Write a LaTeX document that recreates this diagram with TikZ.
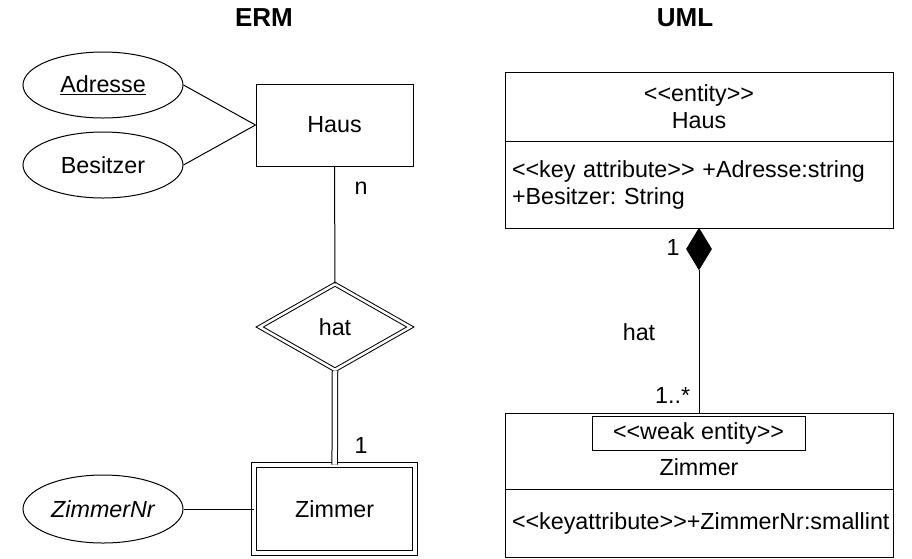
\documentclass[tikz,border=0pt]{standalone}
\usepackage{fontspec}
\setmainfont{Liberation Sans}
\usetikzlibrary{shapes.geometric}
\frenchspacing
\newcommand\stereo[1]{\mbox{<}\mbox{<}#1\mbox{>}\mbox{>}}
\tikzset{
  every node/.style={font=\fontsize{23.3}{27}\selectfont},
  titel/.style={font=\fontsize{26}{30}\selectfont\bfseries},
  attr/.style={draw, ellipse, minimum width=160pt, minimum height=66pt, inner sep=0pt},
  entity/.style={draw, rectangle, minimum width=157pt, minimum height=82pt},
  weakentity/.style={draw, rectangle, double, double distance=4pt, minimum width=161pt, minimum height=88pt},
  weakrel/.style={draw, diamond, double, double distance=2.5pt, minimum width=151pt, minimum height=86pt, inner sep=0pt},
  klasse/.style={draw, rectangle, minimum width=388pt, inner sep=0pt, outer sep=0pt}
}
\begin{document}
\begin{tikzpicture}[x=1pt, y=-1pt, line width=1pt]
\useasboundingbox (0,0) rectangle (912,558);
\node[titel] (erm) at (264,18) {ERM};
\node[titel] (uml) at (685,18) {UML};
\node[attr] (adresse) at (103,85) {\underline{Adresse}};
\node[attr] (besitzer) at (103,165) {Besitzer};
\node[entity] (hausE) at (334.5,125) {Haus};
\node[weakrel] (hat) at (335,327) {hat};
\node[weakentity] (zimmerE) at (334.7,509) {Zimmer};
\node[attr, minimum height=68pt] (zimmerNr) at (103,509) {\itshape ZimmerNr};
\node (multN) at (361,188) {n};
\node (multE) at (361,445) {1};
\draw (adresse.east) -- (hausE.west);
\draw (besitzer.east) -- (hausE.west);
\draw (hausE.south) -- (hat.north);
\draw[double, double distance=4.5pt] (hat.south) -- (zimmerE.north);
\draw (zimmerNr.east) -- (zimmerE.west);
\node[klasse, minimum height=69pt, align=center] (hausHead) at (699,106.5) {\stereo{entity}\\Haus};
\node[klasse, minimum height=87pt, text width=374pt, align=left, inner xsep=7pt, anchor=north] (hausBody) at (hausHead.south) {\stereo{key attribute} +Adresse:string\\+Besitzer: String};
\node[draw, diamond, fill, minimum width=25pt, minimum height=41pt, inner sep=0pt, anchor=north] (komp) at (hausBody.south) {};
\node[klasse, minimum height=76pt] (zimmerHead) at (699,451) {};
\node[klasse, minimum height=68pt, text width=374pt, align=left, inner xsep=7pt, anchor=north] (zimmerBody) at (zimmerHead.south) {\stereo{keyattribute}+ZimmerNr:smallint};
\node[draw, minimum width=213pt, minimum height=34pt, inner sep=0pt] (weak) at (698.5,433) {\stereo{weak entity}};
\node (zimmerU) at (699,467) {Zimmer};
\draw (komp.south) -- (zimmerHead.north);
\node (multK) at (673,247) {1};
\node (hatU) at (639,332) {hat};
\node[anchor=east] (multZ) at (694,395) {1..*};
\end{tikzpicture}
\end{document}
